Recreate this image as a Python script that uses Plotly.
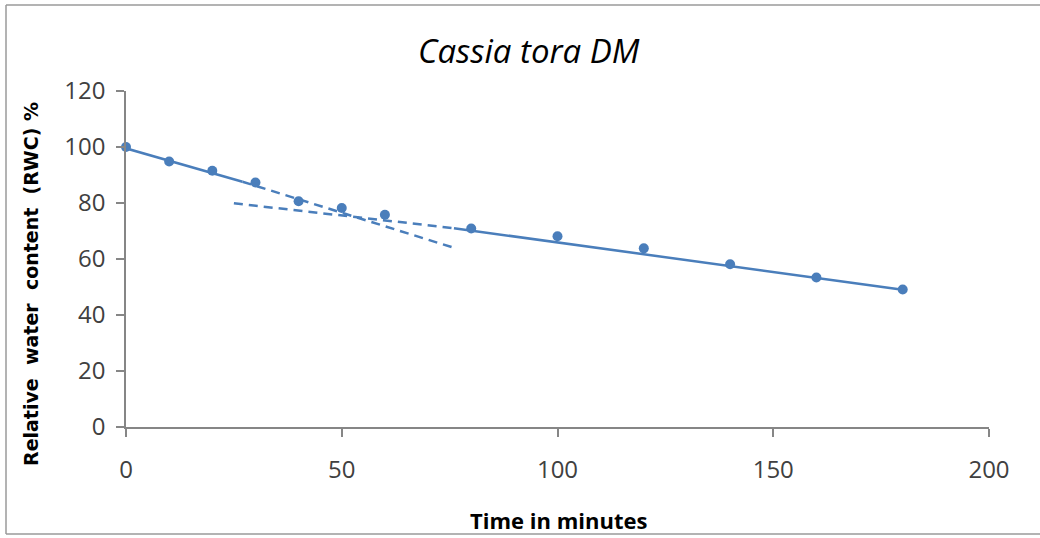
import plotly.graph_objects as go

# Observed data
time_min = [0, 10, 20, 30, 40, 50, 60, 80, 100, 120, 140, 160, 180]
rwc = [100, 94.8, 91.5, 87.3, 80.6, 78.2, 75.8, 70.9, 68.1, 63.8, 58.1, 53.4, 49.1]

# Fitted trend lines: solid part then dashed extension
trend1_x = [-2, 27, 76]
trend1_y = [100.4, 87.6, 64.0]
trend2_x = [25, 76, 180]
trend2_y = [79.9, 71.0, 49.0]

x_ticks = [0, 50, 100, 150, 200]
y_ticks = [0, 20, 40, 60, 80, 100, 120]

blue = "#4A7EBB"
axis_col = "#868686"
dash_style = "9px,6px"

fig = go.Figure()
# trend 1: solid then dashed
fig.add_trace(go.Scatter(x=trend1_x[:2], y=trend1_y[:2], mode="lines",
                         line=dict(color=blue, width=2.5), cliponaxis=False, showlegend=False))
fig.add_trace(go.Scatter(x=trend1_x[1:], y=trend1_y[1:], mode="lines",
                         line=dict(color=blue, width=2.5, dash=dash_style), cliponaxis=False, showlegend=False))
# trend 2: dashed then solid
fig.add_trace(go.Scatter(x=trend2_x[:2], y=trend2_y[:2], mode="lines",
                         line=dict(color=blue, width=2.5, dash=dash_style), cliponaxis=False, showlegend=False))
fig.add_trace(go.Scatter(x=trend2_x[1:], y=trend2_y[1:], mode="lines",
                         line=dict(color=blue, width=2.5), cliponaxis=False, showlegend=False))
# data points
fig.add_trace(go.Scatter(x=time_min, y=rwc, mode="markers",
                         marker=dict(color=blue, size=10), cliponaxis=False, showlegend=False))

L, R, T, B = 126, 51, 91, 111
W, H = 1040, 538
pw, ph = W - L - R, H - T - B

def px_x(p):
    return (p - L) / pw

def px_y(p):
    return (H - B - p) / ph

border = dict(color="#9a9a9a", width=1.5)
fig.update_layout(
    width=W, height=H,
    margin=dict(l=L, r=R, t=T, b=B),
    paper_bgcolor="white", plot_bgcolor="white",
    font=dict(family="Open Sans", color="#404040"),
    xaxis=dict(range=[0, 200], tickvals=x_ticks, showgrid=False, zeroline=False,
               showline=True, linecolor=axis_col, linewidth=1.5,
               ticks="outside", ticklen=8, tickcolor=axis_col, tickwidth=1.5,
               tickfont=dict(size=24, color="#404040"), ticklabelstandoff=12),
    yaxis=dict(range=[0, 120], tickvals=y_ticks, showgrid=False, zeroline=False,
               showline=True, linecolor=axis_col, linewidth=1.5,
               ticks="outside", ticklen=8, tickcolor=axis_col, tickwidth=1.5,
               tickfont=dict(size=24, color="#404040"), ticklabelstandoff=6),
    shapes=[
        dict(type="line", xref="paper", yref="paper", x0=px_x(6), x1=px_x(6),
             y0=px_y(534), y1=px_y(5), line=border),
        dict(type="line", xref="paper", yref="paper", x0=px_x(6), x1=px_x(1045),
             y0=px_y(5), y1=px_y(5), line=border),
        dict(type="line", xref="paper", yref="paper", x0=px_x(6), x1=px_x(1045),
             y0=px_y(534), y1=px_y(534), line=border),
    ],
    annotations=[
        dict(text="<i>Cassia tora DM</i>", xref="paper", yref="paper",
             x=px_x(529), y=px_y(50), showarrow=False, xanchor="center", yanchor="middle",
             font=dict(family="Open Sans", size=33, color="#000000")),
        dict(text="<b>Time in minutes</b>", xref="paper", yref="paper",
             x=px_x(558), y=px_y(520), showarrow=False, xanchor="center", yanchor="middle",
             font=dict(family="Open Sans", size=22, color="#000000")),
        dict(text="<b>Relative\u00a0\u00a0water\u00a0\u00a0content\u00a0\u00a0(RWC)\u00a0%</b>",
             xref="paper", yref="paper", textangle=-90,
             x=px_x(31), y=px_y(284), showarrow=False, xanchor="center", yanchor="middle",
             font=dict(family="DejaVu Sans", size=19, color="#000000")),
    ],
)

fig.write_html("out.html", config={"displayModeBar": False},
               post_script="document.body.style.margin='0';")
